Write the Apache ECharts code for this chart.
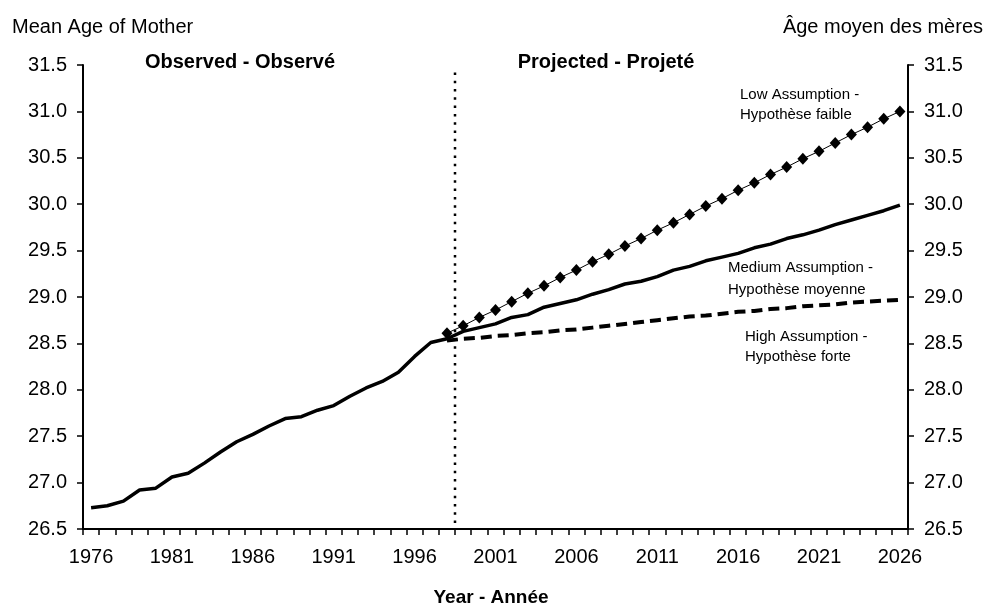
<!DOCTYPE html>
<html>
<head>
<meta charset="utf-8">
<script src="https://cdn.jsdelivr.net/npm/echarts@6/dist/echarts.min.js"></script>
<style>
  html, body { margin: 0; padding: 0; background: #fff; }
  #chart { width: 987px; height: 610px; }
</style>
</head>
<body>
<div id="chart"></div>
<script>
// years on the category axis
const years = [
  '1976', '1977', '1978', '1979', '1980', '1981', '1982', '1983', '1984', '1985',
  '1986', '1987', '1988', '1989', '1990', '1991', '1992', '1993', '1994', '1995',
  '1996', '1997', '1998', '1999', '2000', '2001', '2002', '2003', '2004', '2005',
  '2006', '2007', '2008', '2009', '2010', '2011', '2012', '2013', '2014', '2015',
  '2016', '2017', '2018', '2019', '2020', '2021', '2022', '2023', '2024', '2025', '2026'
]
// observed 1976 - 1998
const observed = [
  26.73, 26.75, 26.80, 26.92, 26.94, 27.06, 27.10, 27.21, 27.33, 27.44,
  27.52, 27.61, 27.69, 27.71, 27.78, 27.83, 27.93, 28.02, 28.09, 28.19,
  28.36, 28.51, 28.55
]
// projections 1998 - 2026
const lowAssumption = [
  28.61, 28.69, 28.78, 28.86, 28.95, 29.04, 29.12, 29.21, 29.29, 29.38,
  29.46, 29.55, 29.63, 29.72, 29.80, 29.89, 29.98, 30.06, 30.15, 30.23,
  30.32, 30.40, 30.49, 30.57, 30.66, 30.75, 30.83, 30.92, 31.00
]
const mediumAssumption = [
  28.55, 28.63, 28.67, 28.71, 28.78, 28.81, 28.89, 28.93, 28.97, 29.03,
  29.08, 29.14, 29.17, 29.22, 29.29, 29.33, 29.39, 29.43, 29.47, 29.53,
  29.57, 29.63, 29.67, 29.72, 29.78, 29.83, 29.88, 29.93, 29.99
]
const highAssumption = [
  28.53, 28.55, 28.56, 28.58, 28.59, 28.61, 28.62, 28.64, 28.65, 28.67,
  28.69, 28.71, 28.73, 28.75, 28.77, 28.79, 28.80, 28.82, 28.84, 28.85,
  28.87, 28.88, 28.90, 28.91, 28.92, 28.94, 28.95, 28.96, 28.97
]
const yTicks = { min: 26.5, max: 31.5, step: 0.5 }

const FONT = '"Liberation Sans", Arial, sans-serif'
const projStart = years.indexOf('1998')
const pad = n => new Array(n).fill(null)
const obsData = observed.concat(pad(years.length - observed.length))
const proj = arr => pad(projStart).concat(arr)

const chart = echarts.init(document.getElementById('chart'))

const yAxisBase = {
  type: 'value',
  min: yTicks.min,
  max: yTicks.max,
  interval: yTicks.step,
  splitLine: { show: false },
  axisLine: { show: true, lineStyle: { color: '#000', width: 2 } },
  axisTick: { show: true, length: 6, lineStyle: { color: '#000', width: 1.5 } },
  axisLabel: {
    margin: 16, fontSize: 20, color: '#000', fontFamily: FONT,
    formatter: v => v.toFixed(1)
  }
}

const option = {
  animation: false,
  backgroundColor: '#fff',
  grid: { left: 83, right: 79, top: 65, bottom: 81 },
  xAxis: {
    type: 'category',
    data: years,
    boundaryGap: true,
    axisLine: { lineStyle: { color: '#000', width: 2 } },
    axisTick: { show: true, interval: 0, length: 6, lineStyle: { color: '#000', width: 1.5 } },
    axisLabel: { interval: 4, margin: 18, fontSize: 20, color: '#000', fontFamily: FONT },
    splitLine: { show: false }
  },
  yAxis: [
    Object.assign({}, yAxisBase, { position: 'left' }),
    Object.assign({}, yAxisBase, { position: 'right' })
  ],
  series: [
    {
      name: 'Observed', type: 'line', data: obsData, symbol: 'none',
      lineStyle: { color: '#000', width: 3.5 }, z: 3
    },
    {
      name: 'Medium', type: 'line', data: proj(mediumAssumption), symbol: 'none',
      lineStyle: { color: '#000', width: 3.5 }, z: 3
    },
    {
      name: 'High', type: 'line', data: proj(highAssumption), symbol: 'none',
      lineStyle: { color: '#000', width: 4, type: [11, 6] }, z: 3
    },
    {
      name: 'Low', type: 'line', data: proj(lowAssumption),
      symbol: 'diamond', symbolSize: [11, 12], showAllSymbol: true,
      itemStyle: { color: '#000' },
      lineStyle: { color: '#000', width: 1 }, z: 4
    }
  ]
}
chart.setOption(option)

// dotted separator between observed and projected
const xa = chart.convertToPixel({ xAxisIndex: 0 }, '1998')
const xb = chart.convertToPixel({ xAxisIndex: 0 }, '1999')
const sepX = Math.round((xa + xb) / 2)
const sepTop = chart.convertToPixel({ yAxisIndex: 0 }, 31.42)
const sepBot = chart.convertToPixel({ yAxisIndex: 0 }, yTicks.min)

const txt = (text, x, y, extra) => ({
  type: 'text',
  style: Object.assign({
    text: text, x: x, y: y, fill: '#000',
    fontSize: 20, fontFamily: FONT, align: 'left', verticalAlign: 'middle'
  }, extra || {})
})

chart.setOption({
  graphic: [
    {
      type: 'line',
      shape: { x1: sepX, y1: sepTop, x2: sepX, y2: sepBot },
      style: { stroke: '#000', lineWidth: 2.5, lineDash: [2.5, 5.8] },
      z: 10
    },
    txt('Mean Age of Mother', 12, 27),
    txt('Âge moyen des mères', 983, 27, { align: 'right' }),
    txt('Observed - Observé', 240, 62, { align: 'center', fontWeight: 'bold' }),
    txt('Projected - Projeté', 606, 62, { align: 'center', fontWeight: 'bold' }),
    txt('Year - Année', 491, 598, { align: 'center', fontWeight: 'bold', fontSize: 19 }),
    txt('Low Assumption -', 740, 95, { fontSize: 15 }),
    txt('Hypothèse faible', 740, 115, { fontSize: 15 }),
    txt('Medium Assumption -', 728, 268, { fontSize: 15 }),
    txt('Hypothèse moyenne', 728, 290, { fontSize: 15 }),
    txt('High Assumption -', 745, 337, { fontSize: 15 }),
    txt('Hypothèse forte', 745, 357, { fontSize: 15 })
  ]
})
</script>
</body>
</html>
